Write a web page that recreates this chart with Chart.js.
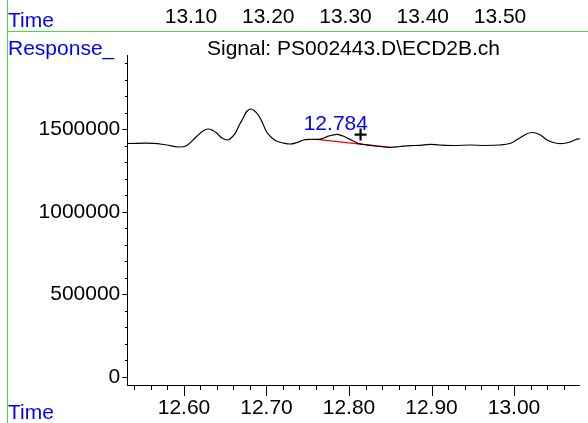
<!DOCTYPE html>
<html>
<head>
<meta charset="utf-8">
<script src="https://cdn.jsdelivr.net/npm/chart.js@4.4.1/dist/chart.umd.min.js"></script>
<style>
  html, body { margin: 0; padding: 0; background: #ffffff; }
  #c { display: block; }
</style>
</head>
<body>
<canvas id="c" width="588" height="423"></canvas>
<script>
// ---- data ----
const times = [12.531, 12.563, 12.579, 12.593, 12.603, 12.615, 12.623, 12.629, 12.635, 12.640,
  12.646, 12.653, 12.657, 12.662, 12.667, 12.672, 12.676, 12.681, 12.685, 12.690,
  12.695, 12.700, 12.706, 12.712, 12.720, 12.729, 12.737, 12.745, 12.753, 12.761,
  12.767, 12.775, 12.785, 12.792, 12.797, 12.804, 12.811, 12.818, 12.826, 12.838,
  12.850, 12.862, 12.874, 12.886, 12.898, 12.910, 12.928, 12.947, 12.965, 12.983,
  12.995, 13.005, 13.015, 13.023, 13.032, 13.040, 13.050, 13.059, 13.068, 13.075, 13.080];
const responses = [1413900, 1415000, 1404800, 1392700, 1400600, 1455100, 1489700, 1501800, 1492700, 1475700,
  1447200, 1435100, 1447000, 1475700, 1526000, 1570300, 1607900, 1623000, 1614000, 1586700,
  1541200, 1485400, 1450300, 1429000, 1417000, 1410800, 1420000, 1435100, 1439400, 1439400,
  1442400, 1458200, 1469700, 1460600, 1449000, 1432100, 1415000, 1407800, 1403000, 1395700,
  1390800, 1395700, 1400600, 1403000, 1409000, 1404800, 1401800, 1404800, 1401800, 1404800,
  1413900, 1441200, 1471500, 1480600, 1465400, 1435100, 1416900, 1413900, 1423000, 1438200, 1444200];
const baselineTimes = [12.761, 12.850];
const baselineValues = [1439400, 1390800];
const peakLabel = '12.784';
const peakTime = 12.784;
const peakValue = 1469700;
const markerTimes = [12.814];
const markerValues = [1468000];
const yMajorTicks = [0, 500000, 1000000, 1500000];
const yMinorStep = 100000;
const yMinorMax = 1900000;
const xTickLabels = ['12.60', '12.70', '12.80', '12.90', '13.00'];
const xMinorStep = 0.02;
const topTickLabels = ['13.10', '13.20', '13.30', '13.40', '13.50'];
const titleText = 'Signal: PS002443.D\\ECD2B.ch';
const yAxisName = 'Response_';
const xAxisName = 'Time';

const FONT = "'Liberation Sans', Arial, sans-serif";
const FS = 21;

function isXMajor(v) {
  return xTickLabels.includes(v.toFixed(2));
}
function isYMajor(v) {
  return yMajorTicks.includes(Math.round(v));
}

const overlay = {
  id: 'overlay',
  afterDraw(chart) {
    const ctx = chart.ctx;
    const xs = chart.scales.x, ys = chart.scales.y, xt = chart.scales.xTop;
    ctx.save();
    // green frame lines
    ctx.strokeStyle = '#44dd44';
    ctx.lineWidth = 1;
    ctx.beginPath();
    ctx.moveTo(7.5, 0); ctx.lineTo(7.5, chart.height);
    ctx.moveTo(7, 31.5); ctx.lineTo(chart.width, 31.5);
    ctx.stroke();
    // tick marks
    ctx.strokeStyle = '#000';
    ctx.beginPath();
    xs.ticks.forEach(t => {
      const px = Math.round(xs.getPixelForValue(t.value)) + 0.5;
      const len = isXMajor(t.value) ? 11 : 5;
      ctx.moveTo(px, xs.top); ctx.lineTo(px, xs.top + len);
    });
    ys.ticks.forEach(t => {
      const py = Math.round(ys.getPixelForValue(t.value)) + 0.5;
      const len = isYMajor(t.value) ? 5 : 2.5;
      ctx.moveTo(ys.right, py); ctx.lineTo(ys.right - len, py);
    });
    ctx.stroke();
    // texts
    ctx.font = FS + 'px ' + FONT;
    ctx.textBaseline = 'alphabetic';
    // top (previous panel) time axis labels
    ctx.fillStyle = '#000';
    ctx.textAlign = 'center';
    topTickLabels.forEach(l => {
      ctx.fillText(l, xt.getPixelForValue(parseFloat(l)), 22.5);
    });
    const ca = chart.chartArea;
    ctx.fillText(titleText, (ca.left + ca.right) / 2, 55);
    ctx.fillStyle = '#0000ff';
    ctx.fillText(peakLabel, xs.getPixelForValue(peakTime), ys.getPixelForValue(peakValue) - 4);
    ctx.textAlign = 'left';
    ctx.fillText(xAxisName, 8, 27);
    ctx.fillText(yAxisName, 8, 55);
    ctx.fillText(xAxisName, 8, 419);
    ctx.restore();
  }
};

new Chart(document.getElementById('c'), {
  type: 'line',
  data: {
    datasets: [
      {
        label: 'signal',
        data: times.map((t, i) => ({ x: t, y: responses[i] })),
        borderColor: '#000000',
        borderWidth: 1.2,
        pointRadius: 0,
        tension: 0.35,
        fill: false,
        xAxisID: 'x', yAxisID: 'y'
      },
      {
        label: 'baseline',
        data: baselineTimes.map((t, i) => ({ x: t, y: baselineValues[i] })),
        borderColor: '#ff0000',
        borderWidth: 1.2,
        pointRadius: 0,
        tension: 0,
        fill: false,
        xAxisID: 'x', yAxisID: 'y'
      },
      {
        label: 'marker',
        type: 'scatter',
        data: markerTimes.map((t, i) => ({ x: t, y: markerValues[i] })),
        pointStyle: 'cross',
        pointRadius: 6,
        pointBorderWidth: 2.2,
        borderColor: '#000000',
        backgroundColor: '#000000',
        showLine: false,
        xAxisID: 'x', yAxisID: 'y'
      }
    ]
  },
  options: {
    responsive: false,
    animation: false,
    layout: { padding: { top: 55, left: 0, right: 8.3, bottom: 0 } },
    plugins: {
      legend: { display: false },
      title: { display: false },
      tooltip: { enabled: false }
    },
    scales: {
      x: {
        type: 'linear',
        position: 'bottom',
        min: 12.5313,
        max: 13.0796,
        grid: { display: false, drawTicks: false, tickLength: 0 },
        border: { display: true, color: '#000', width: 1 },
        ticks: {
          stepSize: xMinorStep,
          includeBounds: false,
          autoSkip: false,
          maxRotation: 0,
          padding: 11,
          color: '#000',
          font: { family: FONT, size: FS },
          callback: (v) => isXMajor(v) ? v.toFixed(2) : ''
        },
        afterFit: (s) => { s.height = 38; }
      },
      xTop: {
        type: 'linear',
        display: false,
        position: 'top',
        min: 13.0175,
        max: 13.6032
      },
      y: {
        type: 'linear',
        position: 'left',
        min: -50300,
        max: 1950500,
        grid: { display: false, drawTicks: false, tickLength: 0 },
        border: { display: true, color: '#000', width: 1 },
        afterBuildTicks: (s) => {
          const t = [];
          for (let v = 0; v <= yMinorMax; v += yMinorStep) t.push({ value: v });
          s.ticks = t;
        },
        ticks: {
          autoSkip: false,
          padding: 7,
          color: '#000',
          font: { family: FONT, size: FS },
          callback: (v) => isYMajor(v) ? String(Math.round(v)) : ''
        },
        afterFit: (s) => { s.width = 127.3; }
      }
    }
  },
  plugins: [overlay]
});
</script>
</body>
</html>
